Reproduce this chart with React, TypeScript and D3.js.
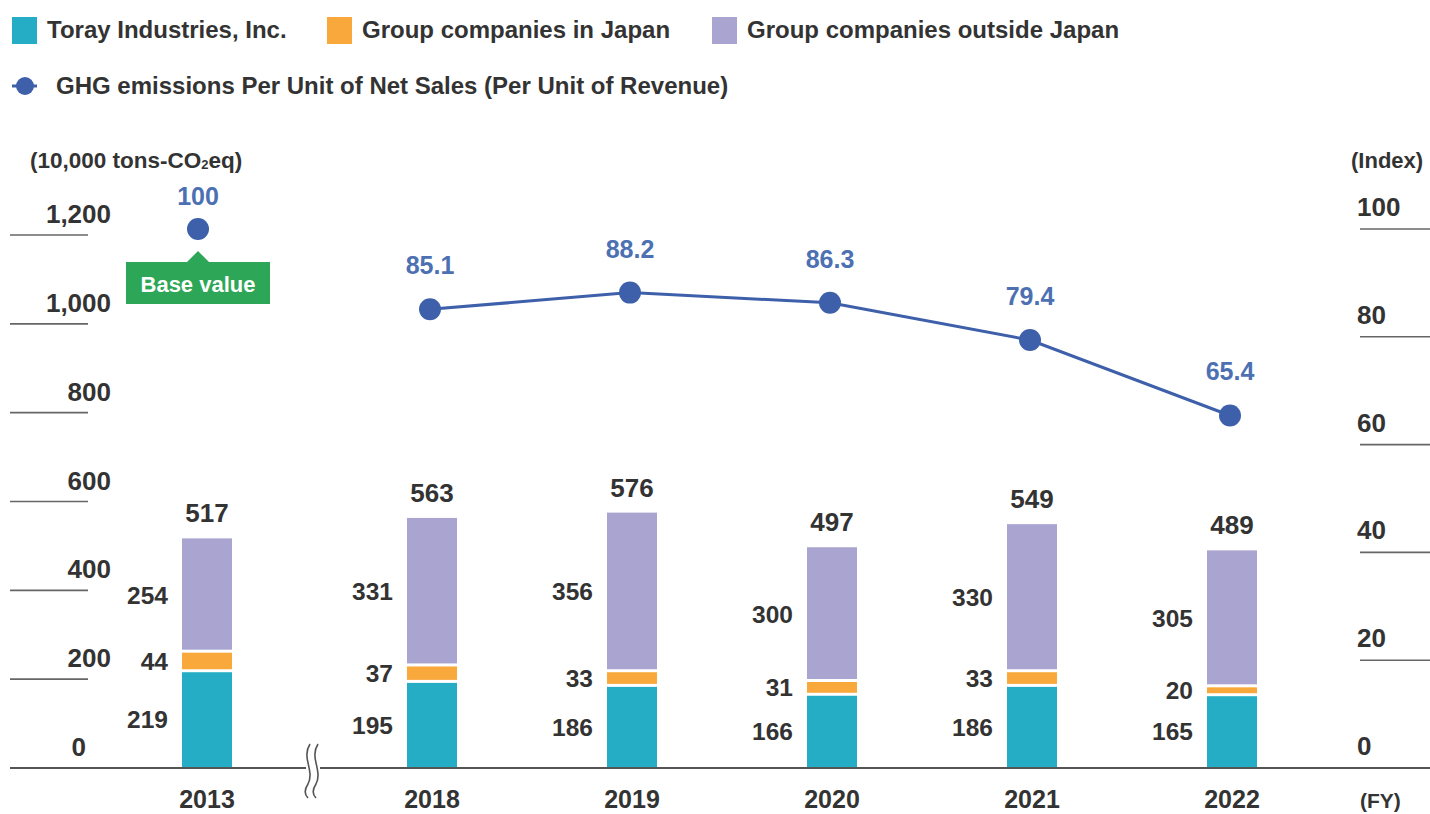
import React from "react";
import * as d3 from "d3";

const years = ["2013", "2018", "2019", "2020", "2021", "2022"];
const toray = [219, 195, 186, 166, 186, 165];
const japan = [44, 37, 33, 31, 33, 20];
const outside = [254, 331, 356, 300, 330, 305];
const totals = [517, 563, 576, 497, 549, 489];
const ghgIndex = [100, 85.1, 88.2, 86.3, 79.4, 65.4];
const ghgLabels = ["100", "85.1", "88.2", "86.3", "79.4", "65.4"];
const leftTicks = [0, 200, 400, 600, 800, 1000, 1200];
const rightTicks = [0, 20, 40, 60, 80, 100];
const seriesNames = ["Toray Industries, Inc.", "Group companies in Japan", "Group companies outside Japan"];
const lineName = "GHG emissions Per Unit of Net Sales (Per Unit of Revenue)";

const W = 1430;
const H = 814;
const FONT = "'Liberation Sans', Arial, Helvetica, sans-serif";
const DARK = "#333333";
const BLUE_TEXT = "#4d70b3";
const BLUE_LINE = "#3e60aa";
const COLORS = ["#24adc5", "#f9a83c", "#aaa5d0"];
const GREEN = "#2ea657";

export default function App() {
  const baseY = 768;
  const yLeft = d3.scaleLinear().domain([0, 1200]).range([baseY, 235]);
  const yRight = d3.scaleLinear().domain([0, 100]).range([baseY, 229]);
  const xLin = d3.scaleLinear().domain([1, 5]).range([432, 1232]);
  const xc = (i: number) => (i === 0 ? xLin(0) - 25 : xLin(i));
  // the base-year marker sits slightly left of its bar in the reference
  const xPoint = (i: number) => (i === 0 ? xc(0) - 9 : xc(i) - 2);
  const barW = 50;

  const table = years.map((y, i) => ({ year: y, a: toray[i], b: japan[i], c: outside[i] }));
  const stack = d3.stack<any>().keys(["a", "b", "c"]);
  const layers = stack(table);

  const lineGen = d3
    .line<number>()
    .x((_, k) => xPoint(k + 1))
    .y((v) => yRight(v));
  const linePath = lineGen(ghgIndex.slice(1)) || "";

  const breakX = 312;
  const wave = (x0: number) => {
    const p = d3.path();
    p.moveTo(x0 + 3, 744);
    p.bezierCurveTo(x0 - 6, 758, x0 + 8, 770, x0 + 1, 784);
    p.bezierCurveTo(x0 - 3, 790, x0 - 2, 795, x0 + 1, 798);
    return p.toString();
  };

  const legendX = [12, 327, 712];

  return (
    <svg
      width={W}
      height={H}
      style={{ position: "absolute", left: 0, top: 0, background: "#fff" }}
      fontFamily={FONT}
    >
      <rect x={0} y={0} width={W} height={H} fill="#fff" />
      {/* Legend row 1 */}
      {seriesNames.map((n, i) => (
        <g key={n}>
          <rect x={legendX[i]} y={17} width={25} height={27} fill={COLORS[i]} />
          <text x={legendX[i] + 35} y={38} fontSize={24} fontWeight={700} fill={DARK}>
            {n}
          </text>
        </g>
      ))}
      {/* Legend row 2 */}
      <line x1={12} x2={37} y1={86} y2={86} stroke={BLUE_LINE} strokeWidth={3} />
      <circle cx={25} cy={86} r={9} fill={BLUE_LINE} />
      <text x={56} y={94} fontSize={24} fontWeight={700} fill={DARK}>
        {lineName}
      </text>

      {/* Axis titles */}
      <text x={30} y={168} fontSize={22.5} fontWeight={700} fill={DARK}>
        (10,000 tons-CO
        <tspan fontSize={13} dy={1}>2</tspan>
        <tspan dy={-1}>eq)</tspan>
      </text>
      <text x={1351} y={168} fontSize={22} fontWeight={700} fill={DARK}>
        (Index)
      </text>

      {/* Left ticks */}
      {leftTicks.map((t) => (
        <g key={"l" + t}>
          {t !== 0 && (
            <line x1={10} x2={88} y1={yLeft(t)} y2={yLeft(t)} stroke="#666" strokeWidth={1.6} />
          )}
          <text x={t === 0 ? 86 : 111} y={yLeft(t) - 12} fontSize={26} fontWeight={700} fill={DARK} textAnchor="end">
            {d3.format(",")(t)}
          </text>
        </g>
      ))}
      {/* Right ticks */}
      {rightTicks.map((t) => (
        <g key={"r" + t}>
          {t !== 0 && (
            <line x1={1360} x2={W} y1={yRight(t)} y2={yRight(t)} stroke="#666" strokeWidth={1.6} />
          )}
          <text x={1357} y={yRight(t) - 13} fontSize={26} fontWeight={700} fill={DARK}>
            {t}
          </text>
        </g>
      ))}

      {/* Bars */}
      {layers.map((layer, li) =>
        layer.map((d, i) => {
          const y0 = yLeft(d[0]);
          const y1 = yLeft(d[1]);
          const gapTop = li < 2 ? 1.5 : 0;
          const gapBot = li > 0 ? 1.5 : 0;
          return (
            <rect
              key={li + "-" + i}
              x={xc(i) - barW / 2}
              y={y1 + gapTop}
              width={barW}
              height={Math.max(0, y0 - y1 - gapTop - gapBot)}
              fill={COLORS[li]}
            />
          );
        })
      )}
      {/* Segment labels */}
      {layers.map((layer, li) =>
        layer.map((d, i) => (
          <text
            key={"sl" + li + "-" + i}
            x={xc(i) - barW / 2 - 14}
            y={(yLeft(d[0]) + yLeft(d[1])) / 2}
            dy="0.36em"
            fontSize={24.5}
            fontWeight={700}
            fill={DARK}
            textAnchor="end"
          >
            {[toray, japan, outside][li][i]}
          </text>
        ))
      )}
      {/* Totals */}
      {totals.map((t, i) => (
        <text
          key={"t" + i}
          x={xc(i)}
          y={yLeft(layers[2][i][1]) - 16}
          fontSize={26}
          fontWeight={700}
          fill={DARK}
          textAnchor="middle"
        >
          {t}
        </text>
      ))}

      {/* Baseline axis */}
      <line x1={10} x2={W} y1={baseY} y2={baseY} stroke="#555" strokeWidth={2} />
      <rect x={breakX - 6} y={760} width={14} height={16} fill="#fff" />
      <path d={wave(breakX - 5)} fill="none" stroke="#555" strokeWidth={1.6} />
      <path d={wave(breakX + 3)} fill="none" stroke="#555" strokeWidth={1.6} />

      {/* Year labels */}
      {years.map((y, i) => (
        <text key={y} x={xc(i)} y={808} fontSize={25} fontWeight={700} fill={DARK} textAnchor="middle">
          {y}
        </text>
      ))}
      <text x={1360} y={808} fontSize={21} fontWeight={700} fill={DARK}>
        (FY)
      </text>

      {/* Line */}
      <path d={linePath} fill="none" stroke={BLUE_LINE} strokeWidth={3} />
      {ghgIndex.map((v, i) => (
        <g key={"p" + i}>
          <circle cx={xPoint(i)} cy={yRight(v)} r={11} fill={BLUE_LINE} />
          <text
            x={xPoint(i)}
            y={yRight(v) - (i === 0 ? 24 : 35)}
            fontSize={25}
            fontWeight={700}
            fill={BLUE_TEXT}
            textAnchor="middle"
          >
            {ghgLabels[i]}
          </text>
        </g>
      ))}

      {/* Base value callout */}
      {(() => {
        const cx = xPoint(0);
        const top = yRight(100) + 33;
        return (
          <g>
            <path
              d={`M${cx - 72},${top} L${cx - 11},${top} L${cx},${top - 11} L${cx + 11},${top} L${cx + 72},${top} L${cx + 72},${top + 42} L${cx - 72},${top + 42} Z`}
              fill={GREEN}
            />
            <text x={cx} y={top + 30} fontSize={22} fontWeight={700} fill="#fff" textAnchor="middle">
              Base value
            </text>
          </g>
        );
      })()}
    </svg>
  );
}
